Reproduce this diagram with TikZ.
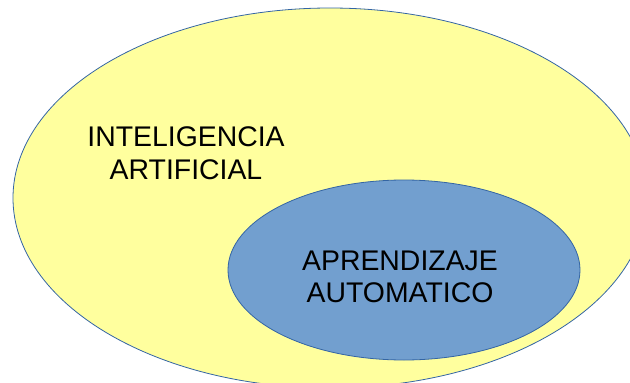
\documentclass[tikz,border=0pt]{standalone}
\usepackage{fontspec}
\setmainfont{Liberation Sans}
\definecolor{aiyellow}{HTML}{FFFF9E}
\definecolor{mlblue}{HTML}{729FCF}
\definecolor{edge}{HTML}{3465A4}
\begin{document}
\begin{tikzpicture}[x=1pt,y=-1pt,
  region/.style={draw=edge, line width=0.8pt},
  label/.style={align=center, font=\fontsize{28.4}{32.7}\selectfont, text=black, inner sep=0pt}]
\useasboundingbox (0,0) rectangle (630,383);
\begin{scope}
\clip (0,0) rectangle (630,383);
\draw[region, fill=aiyellow] (330,198) ellipse [x radius=317, y radius=190];
\draw[region, fill=mlblue] (404,270) ellipse [x radius=176, y radius=90];
\end{scope}
\node[label] (ai) at (186,153) {INTELIGENCIA\\ARTIFICIAL};
\node[label] (ml) at (400,277) {APRENDIZAJE\\AUTOMATICO};
\end{tikzpicture}
\end{document}
